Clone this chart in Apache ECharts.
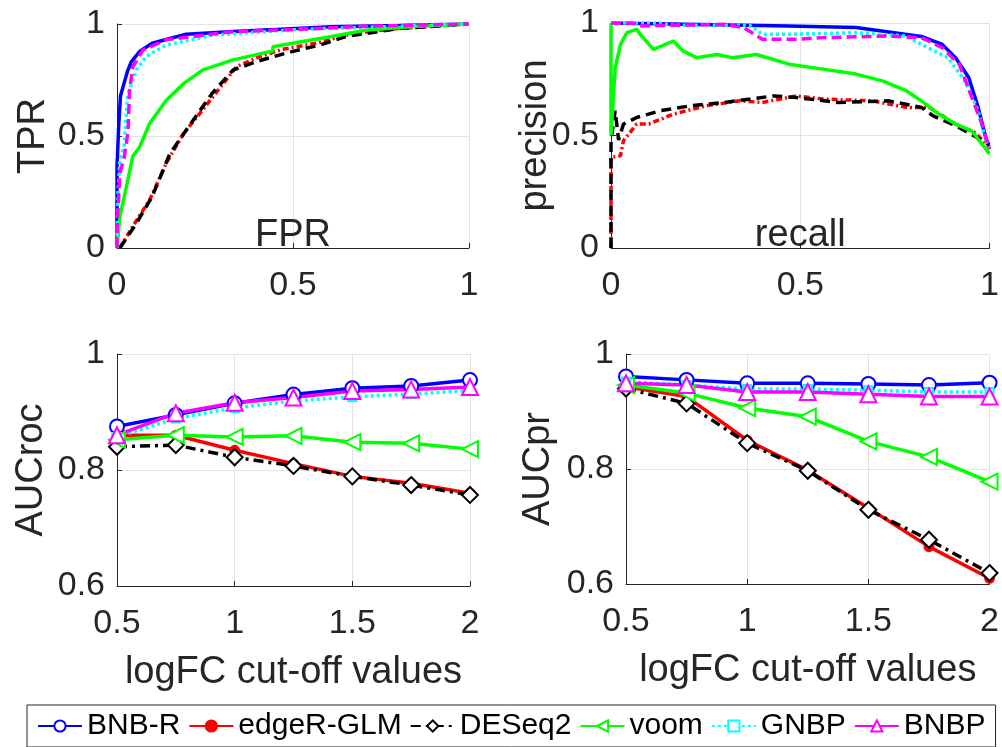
<!DOCTYPE html>
<html lang="en">
<head>
    <meta charset="UTF-8">
    <title>ROC / PR / AUC comparison</title>
    <script src="https://cdn.jsdelivr.net/npm/echarts@6/dist/echarts.min.js"></script>
</head>
<body style="margin:0;background:#fff">
<div id="main" style="width:1002px;height:747px"></div>
<script>
    // series names and colours
    var methods = ['BNB-R', 'edgeR-GLM', 'DESeq2', 'voom', 'GNBP', 'BNBP'];
    var colors = ['#0000ff', '#ff0000', '#000000', '#00ff00', '#00ffff', '#ff00ff'];

    // ROC curves: [FPR, TPR]
    var rocBNBR = [[0, 0], [0, 0.36], [0.005, 0.55], [0.01, 0.68], [0.02, 0.735], [0.03, 0.79], [0.04, 0.83], [0.064, 0.877], [0.1, 0.914], [0.15, 0.935], [0.197, 0.954], [0.33, 0.966], [0.45, 0.975], [0.61, 0.988], [0.8, 0.993], [1, 1]];
    var rocEdgeR = [[0.008, 0], [0.045, 0.097], [0.093, 0.215], [0.14, 0.379], [0.19, 0.513], [0.235, 0.6], [0.28, 0.69], [0.34, 0.81], [0.405, 0.854], [0.47, 0.887], [0.566, 0.914], [0.67, 0.958], [0.8, 0.98], [1, 1]];
    var rocDESeq2 = [[0.008, 0], [0.055, 0.11], [0.1, 0.23], [0.15, 0.42], [0.197, 0.527], [0.27, 0.69], [0.33, 0.795], [0.396, 0.832], [0.48, 0.87], [0.576, 0.906], [0.65, 0.944], [0.8, 0.98], [1, 1]];
    var rocVoom = [[0, 0], [0.008, 0.14], [0.027, 0.275], [0.045, 0.41], [0.064, 0.45], [0.093, 0.557], [0.14, 0.66], [0.19, 0.735], [0.244, 0.795], [0.33, 0.84], [0.443, 0.88], [0.443, 0.899], [0.52, 0.92], [0.61, 0.944], [0.71, 0.973], [0.85, 0.99], [1, 1]];
    var rocGNBP = [[0, 0], [0.003, 0.245], [0.008, 0.39], [0.02, 0.45], [0.03, 0.68], [0.055, 0.795], [0.083, 0.855], [0.14, 0.906], [0.27, 0.95], [0.52, 0.976], [0.8, 0.99], [1, 1]];
    var rocBNBP = [[0, 0], [0, 0.08], [0.008, 0.334], [0.02, 0.4], [0.031, 0.513], [0.036, 0.706], [0.045, 0.81], [0.074, 0.884], [0.14, 0.93], [0.33, 0.966], [0.5, 0.975], [0.71, 0.99], [1, 1]];

    // PR curves: [recall, precision]
    var prBNBR = [[0, 1], [0.47, 0.987], [0.647, 0.98], [0.82, 0.94], [0.875, 0.905], [0.91, 0.846], [0.945, 0.758], [0.97, 0.625], [0.99, 0.49], [1, 0.44]];
    var prEdgeR = [[0, 0], [0, 0.403], [0.025, 0.41], [0.033, 0.477], [0.068, 0.551], [0.1, 0.551], [0.165, 0.595], [0.25, 0.632], [0.34, 0.654], [0.4, 0.647], [0.49, 0.676], [0.56, 0.662], [0.69, 0.654], [0.78, 0.625], [0.84, 0.625], [0.91, 0.551], [0.96, 0.514], [1, 0.448]];
    var prDESeq2 = [[0, 0], [0, 0.477], [0.011, 0.61], [0.02, 0.48], [0.033, 0.551], [0.068, 0.58], [0.13, 0.61], [0.21, 0.632], [0.3, 0.647], [0.43, 0.676], [0.49, 0.669], [0.6, 0.647], [0.734, 0.654], [0.82, 0.625], [0.85, 0.588], [0.91, 0.544], [1, 0.46]];
    var prVoom = [[0, 1], [0, 0.5], [0.011, 0.8], [0.025, 0.905], [0.042, 0.957], [0.068, 0.972], [0.077, 0.95], [0.112, 0.883], [0.165, 0.92], [0.19, 0.876], [0.226, 0.846], [0.28, 0.86], [0.32, 0.846], [0.384, 0.86], [0.47, 0.817], [0.56, 0.795], [0.647, 0.773], [0.717, 0.743], [0.78, 0.699], [0.82, 0.654], [0.866, 0.595], [0.91, 0.551], [0.953, 0.521], [1, 0.418]];
    var prGNBP = [[0, 1], [0.12, 1], [0.165, 0.99], [0.366, 0.99], [0.4, 0.95], [0.47, 0.95], [0.647, 0.957], [0.78, 0.942], [0.82, 0.905], [0.89, 0.846], [0.935, 0.743], [0.97, 0.61], [0.99, 0.477], [1, 0.44]];
    var prBNBP = [[0, 1], [0.06, 1], [0.073, 0.987], [0.3, 0.994], [0.35, 0.98], [0.4, 0.928], [0.49, 0.928], [0.56, 0.935], [0.73, 0.942], [0.82, 0.935], [0.875, 0.89], [0.92, 0.817], [0.95, 0.684], [0.98, 0.55], [1, 0.44]];

    // AUC vs logFC cut-off
    var cutoffs = [0.5, 0.75, 1, 1.25, 1.5, 1.75, 2];
    var aucRocBNBR = [0.875, 0.895, 0.915, 0.930, 0.941, 0.945, 0.955];
    var aucRocEdgeR = [0.860, 0.860, 0.834, 0.811, 0.789, 0.777, 0.760];
    var aucRocDESeq2 = [0.840, 0.843, 0.822, 0.807, 0.789, 0.774, 0.757];
    var aucRocVoom = [0.852, 0.860, 0.857, 0.859, 0.848, 0.846, 0.836];
    var aucRocGNBP = [0.857, 0.889, 0.907, 0.919, 0.926, 0.931, 0.937];
    var aucRocBNBP = [0.860, 0.898, 0.916, 0.925, 0.936, 0.939, 0.943];

    var aucPrBNBR = [0.961, 0.955, 0.949, 0.949, 0.948, 0.946, 0.950];
    var aucPrEdgeR = [0.943, 0.926, 0.850, 0.798, 0.732, 0.665, 0.610];
    var aucPrDESeq2 = [0.940, 0.914, 0.845, 0.797, 0.729, 0.677, 0.619];
    var aucPrVoom = [0.946, 0.932, 0.906, 0.891, 0.848, 0.821, 0.778];
    var aucPrGNBP = [0.952, 0.946, 0.939, 0.939, 0.937, 0.934, 0.934];
    var aucPrBNBP = [0.949, 0.946, 0.934, 0.934, 0.930, 0.926, 0.926];

    var rocCurves = [rocBNBR, rocEdgeR, rocDESeq2, rocVoom, rocGNBP, rocBNBP];
    var prCurves = [prBNBR, prEdgeR, prDESeq2, prVoom, prGNBP, prBNBP];
    var aucRoc = [aucRocBNBR, aucRocEdgeR, aucRocDESeq2, aucRocVoom, aucRocGNBP, aucRocBNBP];
    var aucPr = [aucPrBNBR, aucPrEdgeR, aucPrDESeq2, aucPrVoom, aucPrGNBP, aucPrBNBP];

    var FONT = 'Liberation Sans';
    var TXT = '#262626';

    // line style per method in the curve plots and in the AUC plots
    var curveDash = ['solid', [6, 3, 2, 3], [10, 6], 'solid', [3, 3], [10, 5]];
    var aucDash = ['solid', 'solid', [10, 5, 3, 5], 'solid', [3, 3], 'solid'];
    var symbols = ['emptyCircle', 'circle', 'emptyDiamond', 'emptyTriangle', 'emptyRect', 'emptyTriangle'];
    var symSizes = [14, 8, 16, 16, 8, 16];
    var symRot = [0, 0, 0, 90, 0, 0];

    function axisX(idx, min, max, interval, name, nameGap, inside) {
        return {
            gridIndex: idx, type: 'value', min: min, max: max, interval: interval,
            name: name, nameLocation: 'middle', nameGap: nameGap, nameMoveOverlap: false,
            nameTextStyle: { fontFamily: FONT, fontSize: 38, color: TXT, verticalAlign: inside ? 'bottom' : 'top' },
            axisLine: { lineStyle: { color: TXT, width: 1 } },
            axisTick: { inside: true, length: 5, lineStyle: { color: TXT } },
            axisLabel: { fontFamily: FONT, fontSize: 34, color: TXT, margin: inside ? 21 : 21 },
            splitLine: { show: true, lineStyle: { color: '#e3e3e3', width: 1 } }
        };
    }
    function axisY(idx, min, max, interval, name, nameGap) {
        return {
            gridIndex: idx, type: 'value', min: min, max: max, interval: interval,
            name: name, nameLocation: 'middle', nameGap: nameGap, nameMoveOverlap: false,
            nameTextStyle: { fontFamily: FONT, fontSize: 38, color: TXT },
            axisLine: { show: true, lineStyle: { color: TXT, width: 1 } },
            axisTick: { show: true, inside: true, length: 5, lineStyle: { color: TXT } },
            axisLabel: { fontFamily: FONT, fontSize: 34, color: TXT, margin: 12 },
            splitLine: { show: true, lineStyle: { color: '#e3e3e3', width: 1 } }
        };
    }

    var series = [];
    // AUC series first so the legend takes their markers
    function addAuc(values, axisIdx) {
        values.forEach(function (vals, i) {
            series.push({
                name: methods[i], type: 'line', xAxisIndex: axisIdx, yAxisIndex: axisIdx,
                data: cutoffs.map(function (c, k) { return [c, vals[k]]; }),
                symbol: symbols[i], symbolSize: symSizes[i], symbolRotate: symRot[i],
                showAllSymbol: true,
                lineStyle: { color: colors[i], width: 3.5, type: aucDash[i] },
                itemStyle: { color: colors[i], borderColor: colors[i], borderWidth: 3 },
                animation: false
            });
        });
    }
    function addCurves(curves, axisIdx) {
        curves.forEach(function (pts, i) {
            series.push({
                name: methods[i], type: 'line', xAxisIndex: axisIdx, yAxisIndex: axisIdx,
                data: pts, symbol: 'none',
                lineStyle: { color: colors[i], width: 3.5, type: curveDash[i] },
                itemStyle: { color: colors[i] },
                animation: false
            });
        });
    }
    addAuc(aucRoc, 2);
    addAuc(aucPr, 3);
    addCurves(rocCurves, 0);
    addCurves(prCurves, 1);

    var myChart = echarts.init(document.getElementById('main'));
    myChart.setOption({
        animation: false,
        grid: [
            { left: 117, top: 24, width: 352, height: 224 },
            { left: 611, top: 23, width: 380, height: 225 },
            { left: 117, top: 354, width: 353, height: 232 },
            { left: 626, top: 354, width: 364, height: 230 }
        ],
        xAxis: [
            axisX(0, 0, 1, 0.5, 'FPR', 7, true),
            axisX(1, 0, 1, 0.5, 'recall', 7, true),
            axisX(2, 0.5, 2, 0.5, 'logFC cut-off values', 68, false),
            axisX(3, 0.5, 2, 0.5, 'logFC cut-off values', 68, false)
        ],
        yAxis: [
            axisY(0, 0, 1, 0.5, 'TPR', 64),
            axisY(1, 0, 1, 0.5, 'precision', 56),
            axisY(2, 0.6, 1, 0.2, 'AUCroc', 66),
            axisY(3, 0.6, 1, 0.2, 'AUCpr', 68)
        ],
        legend: {
            data: methods,
            left: 27, top: 705, width: 980,
            itemWidth: 44, itemHeight: 14, itemGap: 8,
            padding: [6, 10],
            borderColor: '#262626', borderWidth: 1,
            textStyle: { fontFamily: FONT, fontSize: 30, color: '#000' }
        },
        series: series
    });
</script>
</body>
</html>
